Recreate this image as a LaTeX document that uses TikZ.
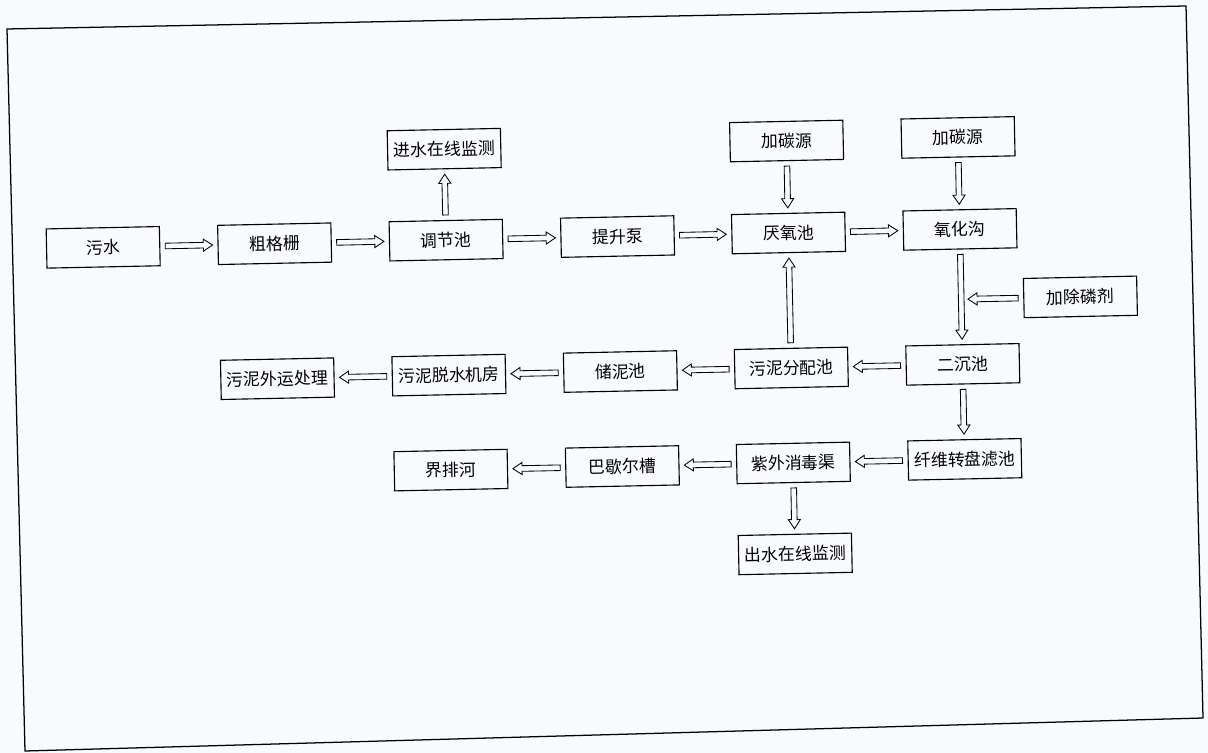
\documentclass[tikz,border=0pt]{standalone}
\usepackage{fontspec}
\newfontfamily\cjk{Noto Sans CJK SC}
\usetikzlibrary{calc}
\definecolor{scanbg}{RGB}{248,250,253}
\tikzset{
  flow start/.store in=\flowstart, flow start=3.5pt,
  flow end/.store in=\flowend, flow end=3.5pt,
  % hollow block arrow from start to target
  flow/.style={draw, line width=0.6pt, fill=scanbg, to path={
    ($(\tikztostart)!\flowstart!(\tikztotarget)$) coordinate (fs)
    ($(\tikztotarget)!\flowend!(\tikztostart)$) coordinate (fe)
    ($(fe)!6.5pt!(fs)$) coordinate (fh)
    ($(fs)!2pt!90:(fe)$) -- ($(fh)!2pt!-90:(fs)$) -- ($(fh)!4.3pt!-90:(fs)$)
    -- (fe) -- ($(fh)!4.3pt!90:(fs)$) -- ($(fh)!2pt!90:(fs)$)
    -- ($(fs)!2pt!-90:(fe)$) -- cycle}}
}
\begin{document}
\begin{tikzpicture}[x=0.025cm, y=-0.025cm,
  font=\cjk\fontsize{12}{14}\selectfont,
  box/.style={draw, line width=0.8pt, minimum width=2.83cm, minimum height=0.98cm, inner sep=0pt, fill=scanbg}]
  % page and outer frame (scan is slightly skewed)
  \fill[scanbg] (0,0) rectangle (1208,753);
  \useasboundingbox (0,0) rectangle (1208,753);
  \draw[line width=0.9pt] (7,29) -- (1186,6) -- (1203,718) -- (25,751) -- cycle;
  \begin{scope}[rotate around={1.2:(788,233)}, transform shape]
    % top row: dosing and monitoring
    \node[box] (jsjc) at (446,142) {进水在线监测};
    \node[box] (tyA) at (788.5,141) {加碳源};
    \node[box] (tyB) at (960,141) {加碳源};
    % main line
    \node[box] (ws)  at (103,233)   {污水};
    \node[box] (cgs) at (274.5,233) {粗格栅};
    \node[box] (tjc) at (446,233)   {调节池};
    \node[box] (tsb) at (617.5,233) {提升泵};
    \node[box] (yyc) at (788.5,233) {厌氧池};
    \node[box] (yhg) at (960,233)   {氧化沟};
    \node[box] (clj) at (1079,303)  {加除磷剂};
    % sludge line
    \node[box] (ecc)  at (960,368)   {二沉池};
    \node[box] (wnfp) at (788.5,368) {污泥分配池};
    \node[box] (cnc)  at (617.5,368) {储泥池};
    \node[box] (tsjf) at (446,368)   {污泥脱水机房};
    \node[box] (wnwy) at (274.5,368) {污泥外运处理};
    % effluent line
    \node[box] (xwlc) at (960,463)   {纤维转盘滤池};
    \node[box] (zwxd) at (788.5,463) {紫外消毒渠};
    \node[box] (bxec) at (617.5,463) {巴歇尔槽};
    \node[box] (jph)  at (446,463)   {界排河};
    \node[box] (csjc) at (788.5,554) {出水在线监测};
    % arrows
    \foreach \a/\b in {ws/cgs, cgs/tjc, tjc/tsb, tsb/yyc, yyc/yhg}
      \path[flow] (\a.east) to (\b.west);
    \foreach \a/\b in {ecc/wnfp, wnfp/cnc, cnc/tsjf, tsjf/wnwy, xwlc/zwxd, zwxd/bxec, bxec/jph}
      \path[flow] (\a.west) to (\b.east);
    \foreach \a/\b in {tyA/yyc, tyB/yhg, yhg/ecc, ecc/xwlc, zwxd/csjc}
      \path[flow] (\a.south) to (\b.north);
    \foreach \a/\b in {tjc/jsjc, wnfp/yyc}
      \path[flow] (\a.north) to (\b.south);
    \coordinate (pj) at ($(yhg.south)!0.526!(ecc.north)$);
    \path[flow, flow end=4.8pt] (clj.west) to (pj);
  \end{scope}
\end{tikzpicture}
\end{document}
